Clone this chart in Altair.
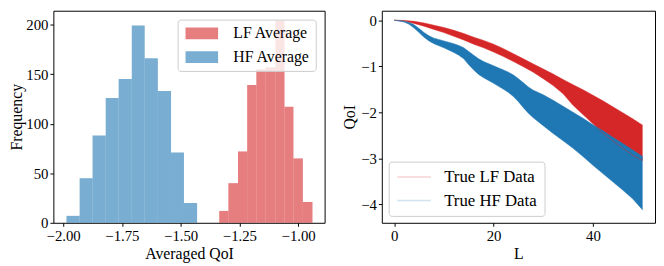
import altair as alt
import pandas as pd

# ---------------- Left panel: histograms ----------------
hf_edges = [-1.986, -1.930, -1.875, -1.819, -1.764, -1.708, -1.653, -1.597, -1.541, -1.486, -1.430]
hf_counts = [7, 45, 88, 126, 145, 199, 166, 133, 71, 20]
lf_edges = [-1.336, -1.297, -1.256, -1.217, -1.178, -1.139, -1.097, -1.058, -1.020, -0.980, -0.939]
lf_counts = [12, 40, 72, 139, 155, 157, 204, 117, 65, 21]

hist_rows = []
for name, edges, counts in [("LF Average", lf_edges, lf_counts), ("HF Average", hf_edges, hf_counts)]:
    for i, c in enumerate(counts):
        hist_rows.append({"series": name, "x0": edges[i], "x1": edges[i + 1], "count": c, "base": 0})
hist_df = pd.DataFrame(hist_rows)

# ---------------- Right panel: bands of curves ----------------
lf_L = [0, 2, 4, 6, 8, 10, 12, 14, 16, 18, 20, 22, 24, 26, 28, 30, 32, 34, 36, 38, 40, 42, 44, 46, 48, 50]
lf_upper = [0, -0.005, -0.025, -0.06, -0.11, -0.16, -0.22, -0.29, -0.37, -0.44, -0.52, -0.62, -0.73,
            -0.84, -0.95, -1.06, -1.17, -1.29, -1.40, -1.51, -1.63, -1.75, -1.88, -2.01, -2.14, -2.28]
lf_lower = [0, -0.02, -0.07, -0.13, -0.20, -0.27, -0.35, -0.43, -0.52, -0.60, -0.69, -0.79, -0.90,
            -1.01, -1.13, -1.27, -1.42, -1.60, -1.85, -2.05, -2.25, -2.45, -2.62, -2.78, -2.93, -3.05]

hf_L = [0, 2, 3, 4, 5, 6, 7, 8, 10, 12, 13, 14, 15, 16, 17, 18, 20, 22, 23, 24, 25, 26, 27, 28,
        30, 32, 34, 36, 38, 40, 42, 44, 46, 48, 50]
hf_upper = [0, -0.02, -0.05, -0.10, -0.18, -0.27, -0.34, -0.39, -0.45, -0.51, -0.55, -0.60, -0.68,
            -0.76, -0.84, -0.90, -0.99, -1.08, -1.13, -1.19, -1.27, -1.36, -1.45, -1.52, -1.62,
            -1.74, -1.87, -2.00, -2.13, -2.27, -2.40, -2.54, -2.68, -2.82, -2.96]
hf_lower = [0, -0.04, -0.09, -0.17, -0.27, -0.37, -0.45, -0.51, -0.60, -0.70, -0.76, -0.84, -0.97,
            -1.08, -1.18, -1.25, -1.37, -1.50, -1.57, -1.66, -1.77, -1.90, -2.02, -2.12, -2.29,
            -2.46, -2.62, -2.78, -2.96, -3.15, -3.33, -3.51, -3.69, -3.88, -4.12]

band_rows = []
edge_rows = []
for name, Ls, up, lo in [("True LF Data", lf_L, lf_upper, lf_lower), ("True HF Data", hf_L, hf_upper, hf_lower)]:
    for l, u, d in zip(Ls, up, lo):
        band_rows.append({"series": name, "L": l, "up": u, "lo": d})
        edge_rows.append({"series": name, "edge": name + " up", "L": l, "Q": u})
        edge_rows.append({"series": name, "edge": name + " lo", "L": l, "Q": d})
band_df = pd.DataFrame(band_rows)
edge_df = pd.DataFrame(edge_rows)

FONT = "Liberation Serif"
H = 215
RED, BLUE = "#d62728", "#1f77b4"

left = alt.Chart(hist_df).mark_rect(opacity=0.6).encode(
    x=alt.X("x0:Q", scale=alt.Scale(domain=[-2.0417, -0.8875], nice=False, zero=False),
            axis=alt.Axis(values=[-2.0, -1.75, -1.5, -1.25, -1.0], format=".2f"),
            title="Averaged QoI"),
    x2="x1:Q",
    y=alt.Y("count:Q", scale=alt.Scale(domain=[0, 214], nice=False),
            axis=alt.Axis(values=[0, 50, 100, 150, 200], titlePadding=1), title="Frequency"),
    y2="base:Q",
    color=alt.Color("series:N",
                    scale=alt.Scale(domain=["LF Average", "HF Average"], range=[RED, BLUE]),
                    legend=alt.Legend(title=None, orient="top-right", offset=9,
                                      fillColor="rgba(255,255,255,0.8)", strokeColor="#cccccc",
                                      cornerRadius=3, padding=6, labelFont=FONT, labelFontSize=16,
                                      labelColor="black", labelOffset=24, symbolOffset=10.5,
                                      symbolType="M-2.75,-1H2.75V1H-2.75Z", symbolSize=144,
                                      symbolOpacity=0.6, symbolStrokeWidth=0, rowPadding=8)),
).properties(width=275, height=H)

xs = alt.Scale(domain=[-2.5, 52.5], nice=False, zero=False)
ys = alt.Scale(domain=[-4.4, 0.205], nice=False, zero=False)

lf_area = alt.Chart(band_df).transform_filter(alt.datum.series == "True LF Data").mark_area(
    color=RED, opacity=1).encode(
    x=alt.X("L:Q", scale=xs, axis=alt.Axis(values=[0, 20, 40]), title="L"),
    y=alt.Y("up:Q", scale=ys, axis=alt.Axis(values=[-4, -3, -2, -1, 0]), title="QoI"),
    y2="lo:Q")
hf_area = alt.Chart(band_df).transform_filter(alt.datum.series == "True HF Data").mark_area(
    color=BLUE, opacity=1).encode(
    x=alt.X("L:Q", scale=xs), y=alt.Y("up:Q", scale=ys), y2="lo:Q")
edges = alt.Chart(edge_df).mark_line(strokeWidth=1, opacity=0.5).encode(
    x=alt.X("L:Q", scale=xs),
    y=alt.Y("Q:Q", scale=ys),
    detail="edge:N",
    color=alt.Color("series:N",
                    scale=alt.Scale(domain=["True LF Data", "True HF Data"], range=[RED, BLUE]),
                    legend=alt.Legend(title=None, orient="bottom-left", offset=7,
                                      fillColor="rgba(255,255,255,0.8)", strokeColor="#cccccc",
                                      cornerRadius=3, padding=7, labelFont=FONT, labelFontSize=17,
                                      labelColor="black", labelOffset=22, symbolOffset=10.25,
                                      symbolType="M-2.83,0H2.83", symbolSize=144,
                                      symbolStrokeWidth=1.5, symbolOpacity=0.2, rowPadding=6)),
)
right = alt.layer(lf_area, hf_area, edges).properties(width=277, height=H)

chart = alt.hconcat(left, right, spacing=16).resolve_scale(color="independent").configure(
    padding=0, background="white"
).configure_view(stroke="black", strokeWidth=1).configure_axis(
    grid=False, domain=False, labelFont=FONT, labelFontSize=15, labelColor="black",
    titleFont=FONT, titleFontSize=16, titleFontWeight="normal", titleColor="black",
    tickColor="black", tickSize=3.5, tickWidth=1, labelPadding=2, titlePadding=3,
)

chart.save("out.html", embed_options={"renderer": "svg", "actions": False})
